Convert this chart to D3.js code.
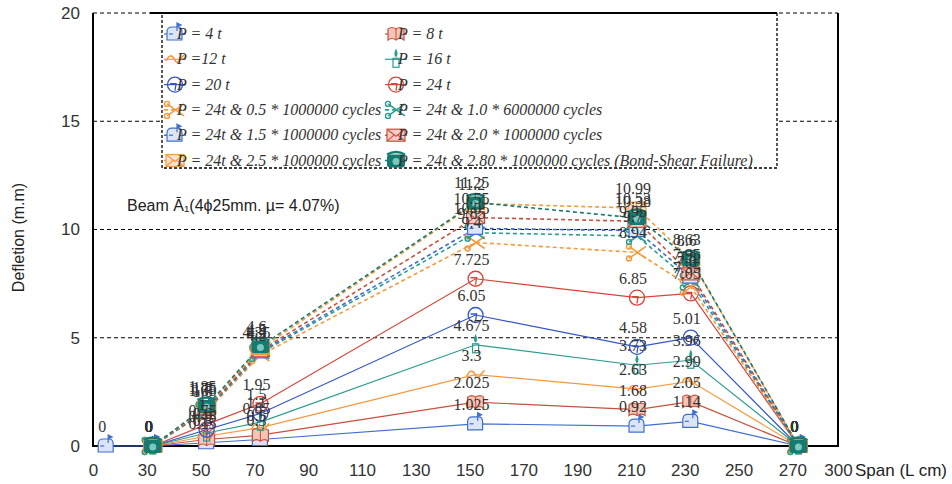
<!DOCTYPE html>
<html>
<head>
<meta charset="utf-8">
<script src="https://cdn.jsdelivr.net/npm/d3@7"></script>
<style>
  body { margin: 0; background: #fff; }
  svg { display: block; }
</style>
</head>
<body>
<div id="chart"></div>
<script>
// x axis labels (the axis is spaced by label, not by value)
const spanTicks = [0, 30, 50, 70, 90, 110, 130, 150, 170, 190, 210, 230, 250, 270, 300];
const yTicks = [0, 5, 10, 15, 20];

// spans where the dial gauges were read
const spans = [30, 50, 70, 150, 210, 230, 270];
const spansP4 = [4, 30, 50, 70, 150, 210, 230, 270];

// static loads
const p4 = [0, 0, 0.15, 0.3, 1.025, 0.92, 1.14, 0];
const p8 = [0, 0.3, 0.5, 2.025, 1.68, 2.05, 0];
const p12 = [0, 0.45, 0.85, 3.3, 2.63, 2.99, 0];
const p16 = [0, 0.6, 1.1, 4.675, 3.73, 3.96, 0];
const p20 = [0, 0.75, 1.5, 6.05, 4.58, 5.01, 0];
const p24 = [0, 1.0, 1.95, 7.725, 6.85, 7.05, 0];

// repeated loading at 24 t
const c05 = [0, 1.6, 4.2, 9.4, 8.94, 7.35, 0];
const c10 = [0, 1.65, 4.3, 9.85, 9.7, 7.6, 0];
const c15 = [0, 1.7, 4.35, 10.05, 9.95, 7.8, 0];
const c20 = [0, 1.75, 4.4, 10.55, 10.38, 7.95, 0];
const c25 = [0, 1.8, 4.5, 11.2, 10.99, 8.6, 0];
const c28 = [0, 1.85, 4.6, 11.25, 10.53, 8.63, 0];

const seriesNames = [
  "P = 4 t", "P = 8 t",
  "P =12 t", "P = 16 t",
  "P = 20 t", "P = 24 t",
  "P = 24t & 0.5 * 1000000 cycles", "P = 24t & 1.0 * 6000000 cycles",
  "P = 24t & 1.5 * 1000000 cycles", "P = 24t & 2.0 * 1000000 cycles",
  "P = 24t & 2.5 * 1000000 cycles", "P = 24t & 2.80 * 1000000 cycles (Bond-Shear Failure)"
];
const seriesValues = [p4, p8, p12, p16, p20, p24, c05, c10, c15, c20, c25, c28];
const seriesColors = ["#3f6fd0", "#c8503c", "#f59a3c", "#2a9d8f", "#3355c8", "#d9443a",
                      "#f59a3c", "#2a9d8f", "#3f6fd0", "#c8503c", "#f59a3c", "#157a70"];
const seriesMarkers = ["mailbox", "book", "wave", "candle", "clock", "clock",
                       "scissors", "scissors", "mailbox", "envelope", "envelope", "phone"];

const width = 952, height = 484;
const plotLeft = 93, plotRight = 838, plotTop = 13, plotBottom = 446;
const step = 53.8;     // spacing between axis labels
const shift = 6;       // markers sit a little right of the label

const svg = d3.select("#chart").append("svg")
  .attr("width", width).attr("height", height);

// piecewise scale through the label positions
const x = d3.scaleLinear()
  .domain(spanTicks)
  .range(spanTicks.map((d, i) => i < spanTicks.length - 1 ? plotLeft + i * step : plotRight));
const y = d3.scaleLinear().domain([0, 20]).range([plotBottom, plotTop]);

const series = seriesNames.map((name, i) => ({
  name,
  color: seriesColors[i],
  marker: seriesMarkers[i],
  dashed: i >= 6,
  points: seriesValues[i].map((v, j) => ({ span: (i === 0 ? spansP4 : spans)[j], v }))
}));

// gridlines
svg.append("g").selectAll("line")
  .data(yTicks.filter(d => d > 0))
  .join("line")
  .attr("x1", plotLeft).attr("x2", plotRight)
  .attr("y1", d => y(d)).attr("y2", d => y(d))
  .attr("stroke", "#000").attr("stroke-width", 1)
  .attr("stroke-dasharray", "4,3");

// axes
const xAxis = svg.append("g")
  .attr("transform", `translate(0,${plotBottom})`)
  .call(d3.axisBottom(x).tickValues(spanTicks).tickSize(0).tickPadding(18).tickFormat(d3.format("d")));
const yAxis = svg.append("g")
  .attr("transform", `translate(${plotLeft},0)`)
  .call(d3.axisLeft(y).tickValues(yTicks).tickSize(0).tickPadding(13));
[xAxis, yAxis].forEach(a => {
  a.select(".domain").remove();
  a.selectAll("text")
    .attr("font-family", "'Liberation Sans', Arial, sans-serif")
    .attr("font-size", 17).attr("fill", "#333");
});

// plot frame: left, bottom, right
svg.append("path")
  .attr("d", `M${plotLeft},${plotTop}V${plotBottom}H${plotRight}V${plotTop}`)
  .attr("fill", "none").attr("stroke", "#000").attr("stroke-width", 2);

// axis titles
svg.append("text")
  .attr("transform", `translate(24,${(plotTop + plotBottom) / 2 + 8}) rotate(-90)`)
  .attr("text-anchor", "middle")
  .attr("font-family", "'Liberation Sans', Arial, sans-serif")
  .attr("font-size", 16).attr("fill", "#222")
  .text("Defletion (m.m)");
svg.append("text")
  .attr("x", 855).attr("y", 476)
  .attr("font-family", "'Liberation Sans', Arial, sans-serif")
  .attr("font-size", 17).attr("fill", "#222")
  .text("Span (L cm)");

svg.append("text")
  .attr("x", 127).attr("y", 211)
  .attr("font-family", "'Liberation Sans', Arial, sans-serif")
  .attr("font-size", 16).attr("fill", "#222")
  .text("Beam Ā\u2081(4ϕ25mm. µ= 4.07%)");

// marker glyphs standing in for the Wingdings symbols
function drawMarker(g, type, color) {
  if (type === "mailbox") {
    g.append("path").attr("d", "M-8,6V-2Q-8,-7 -3,-7H3Q7,-7 7,-2V6Z")
      .attr("fill", "#dce5f7").attr("stroke", color).attr("stroke-width", 1.2);
    g.append("path").attr("d", "M-6,0h4").attr("stroke", color).attr("stroke-width", 1.2);
    g.append("path").attr("d", "M2,-3V-11L6,-9L2,-7").attr("fill", color).attr("stroke", color).attr("stroke-width", 1.2);
  } else if (type === "book") {
    g.append("path").attr("d", "M-8,-5Q-4,-8 0,-5Q4,-8 8,-5V6Q4,3 0,6Q-4,3 -8,6Z")
      .attr("fill", "#f3c4b8").attr("stroke", color).attr("stroke-width", 1.2);
    g.append("path").attr("d", "M0,-5V6").attr("stroke", color).attr("stroke-width", 1);
  } else if (type === "wave") {
    g.append("path").attr("d", "M-9,2C-6,-5 -3,-5 0,1C3,7 6,-3 9,-4")
      .attr("fill", "none").attr("stroke", color).attr("stroke-width", 1.6);
  } else if (type === "candle") {
    g.append("rect").attr("x", -3).attr("y", -1).attr("width", 6).attr("height", 9)
      .attr("fill", "none").attr("stroke", color).attr("stroke-width", 1.2);
    g.append("path").attr("d", "M0,-2C-3,-5 -1,-8 0,-11C1,-8 3,-5 0,-2Z")
      .attr("fill", color);
  } else if (type === "clock") {
    g.append("circle").attr("r", 7.5)
      .attr("fill", "none").attr("stroke", color).attr("stroke-width", 1.3);
    g.append("path").attr("d", "M-5,-1H1L0,6").attr("fill", "none").attr("stroke", color).attr("stroke-width", 1.3);
  } else if (type === "scissors") {
    g.append("path").attr("d", "M-8,-6L9,6M-8,6L9,-6")
      .attr("stroke", color).attr("stroke-width", 1.6);
    g.append("circle").attr("cx", -8).attr("cy", -6).attr("r", 2.5).attr("fill", "none").attr("stroke", color).attr("stroke-width", 1.4);
    g.append("circle").attr("cx", -8).attr("cy", 6).attr("r", 2.5).attr("fill", "none").attr("stroke", color).attr("stroke-width", 1.4);
  } else if (type === "envelope") {
    g.append("rect").attr("x", -9).attr("y", -6).attr("width", 18).attr("height", 12)
      .attr("fill", color === "#c8503c" ? "#f5cdc5" : "#fde2c8").attr("stroke", color).attr("stroke-width", 1.2);
    g.append("path").attr("d", "M-9,-6L0,1L9,-6M-9,6L-2,0M9,6L2,0")
      .attr("fill", "none").attr("stroke", color).attr("stroke-width", 1.1);
  } else if (type === "phone") {
    g.append("rect").attr("x", -9).attr("y", -6).attr("width", 18).attr("height", 13).attr("rx", 3)
      .attr("fill", color);
    g.append("circle").attr("cy", 1).attr("r", 3.5).attr("fill", "#7cc8bf");
    g.append("path").attr("d", "M-9,-6Q0,-11 9,-6").attr("fill", "none").attr("stroke", color).attr("stroke-width", 2.5);
  }
}

const line = d3.line()
  .x(d => x(d.span) + shift)
  .y(d => y(d.v));

// lines
svg.append("g").selectAll("path")
  .data(series)
  .join("path")
  .attr("d", d => line(d.points))
  .attr("fill", "none")
  .attr("stroke", d => d.color)
  .attr("stroke-width", d => d.dashed ? 1.6 : 1.2)
  .attr("stroke-dasharray", d => d.dashed ? "4,3" : null);

// markers
const markerLayer = svg.append("g");
series.forEach(s => {
  s.points.forEach(p => {
    const g = markerLayer.append("g")
      .attr("transform", `translate(${x(p.span) + shift},${y(p.v)})`);
    drawMarker(g, s.marker, s.color);
  });
});

// data labels
const labelLayer = svg.append("g")
  .attr("font-family", "'Liberation Serif', 'Times New Roman', serif")
  .attr("font-size", 16).attr("fill", "#333").attr("text-anchor", "middle");
series.forEach(s => {
  labelLayer.selectAll(null)
    .data(s.points)
    .join("text")
    .attr("x", d => x(d.span) + shift - 4)
    .attr("y", d => y(d.v) - 14)
    .text(d => d.v);
});

// legend
const legX = 162, legY = plotTop, legW = 615, legH = 155;
const legend = svg.append("g");
legend.append("rect")
  .attr("x", legX).attr("y", legY).attr("width", legW).attr("height", legH)
  .attr("fill", "#fff").attr("stroke", "#000").attr("stroke-width", 1.3)
  .attr("stroke-dasharray", "3,2");
legend.append("line")
  .attr("x1", legX - 12).attr("x2", legX + legW).attr("y1", legY).attr("y2", legY)
  .attr("stroke", "#000").attr("stroke-width", 2);

const colX = [175, 396];
const rowY = d3.range(6).map(i => 34 + i * 25.3);
series.forEach((s, i) => {
  const cx = colX[i % 2], cy = rowY[Math.floor(i / 2)];
  const item = legend.append("g").attr("transform", `translate(${cx},${cy})`);
  item.append("line").attr("x1", -11).attr("x2", 11)
    .attr("stroke", s.color).attr("stroke-width", s.dashed ? 1.6 : 1.2)
    .attr("stroke-dasharray", s.dashed ? "4,3" : null);
  drawMarker(item, s.marker, s.color);
  item.append("text")
    .attr("x", 2).attr("y", 5)
    .attr("font-family", "'Liberation Serif', 'Times New Roman', serif")
    .attr("font-style", "italic").attr("font-size", 16).attr("fill", "#333")
    .text(s.name);
});
</script>
</body>
</html>
